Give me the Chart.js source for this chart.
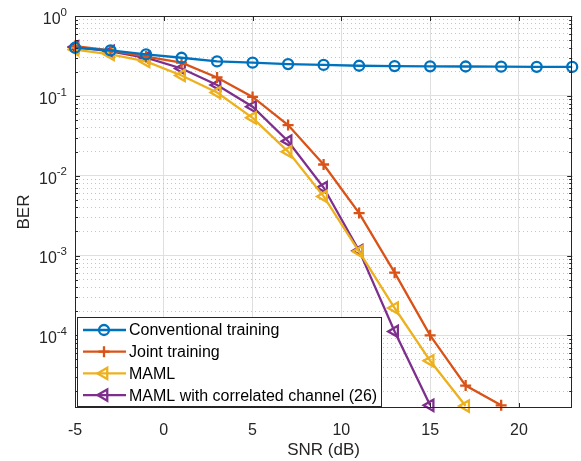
<!DOCTYPE html>
<html>
<head>
<meta charset="utf-8">
<script src="https://cdn.jsdelivr.net/npm/chart.js@4.4.1/dist/chart.umd.min.js"></script>
<style>
  html, body { margin: 0; padding: 0; background: #fff; }
  #wrap { width: 581px; height: 461px; }
</style>
</head>
<body>
<div id="wrap"><canvas id="berChart"></canvas></div>
<script>
// values
const snr = [-5, -3, -1, 1, 3, 5, 7, 9, 11, 13, 15, 17, 19, 21, 23];
const conventional = [0.40, 0.37, 0.33, 0.30, 0.27, 0.26, 0.25, 0.244, 0.238, 0.236, 0.234, 0.233, 0.232, 0.231, 0.230];
const joint = [0.42, 0.37, 0.31, 0.26, 0.17, 0.097, 0.043, 0.0138, 0.0034, 6.1e-4, 1.0e-4, 2.35e-5, 1.33e-5];
const maml = [0.38, 0.33, 0.27, 0.18, 0.11, 0.053, 0.020, 0.0055, 1.12e-3, 2.2e-4, 4.8e-5, 1.3e-5];
const mamlCorr = [0.41, 0.36, 0.30, 0.22, 0.137, 0.073, 0.027, 0.0071, 1.15e-3, 1.12e-4, 1.33e-5];
const seriesNames = ['Conventional training', 'Joint training', 'MAML', 'MAML with correlated channel (26)'];
const xTicks = [-5, 0, 5, 10, 15, 20];
const yTicks = [1e-4, 1e-3, 1e-2, 1e-1, 1];
const yMin = 1.23e-5, yMax = 1;

const FONT = '"Liberation Sans", Arial, Helvetica, sans-serif';
const TXT = '#262626';

// minor log grid: 2..9 x 10^k
const yMinor = [];
for (let k = -5; k <= -1; k++) {
  for (let m = 2; m <= 9; m++) {
    const v = m * Math.pow(10, k);
    if (v >= yMin && v <= yMax) yMinor.push(v);
  }
}

function pts(vals) {
  return vals.map((v, i) => ({ x: snr[i], y: v }));
}

function makeSet(label, vals, color, style, radius, rotation) {
  return {
    label,
    data: pts(vals),
    borderColor: color,
    backgroundColor: 'rgba(0,0,0,0)',
    borderWidth: 2.3,
    pointStyle: style,
    pointRadius: radius,
    pointRotation: rotation,
    pointBorderWidth: 2.3,
    pointBorderColor: color,
    pointBackgroundColor: 'rgba(0,0,0,0)',
    tension: 0,
    clip: 8
  };
}

// box, inner ticks, superscript y labels, legend inside the plot
const berDecor = {
  id: 'berDecor',
  afterDraw(chart) {
    const { ctx, chartArea: a, scales } = chart;
    const x = scales.x, y = scales.y;
    ctx.save();

    // axes box
    ctx.strokeStyle = TXT;
    ctx.lineWidth = 1;
    ctx.setLineDash([]);
    ctx.strokeRect(Math.round(a.left) + 0.5, Math.round(a.top) + 0.5,
      Math.round(a.right - a.left) - 1, Math.round(a.bottom - a.top) - 1);

    // ticks pointing inward
    ctx.beginPath();
    xTicks.forEach(v => {
      const px = Math.round(x.getPixelForValue(v)) + 0.5;
      ctx.moveTo(px, a.bottom); ctx.lineTo(px, a.bottom - 5);
      ctx.moveTo(px, a.top); ctx.lineTo(px, a.top + 5);
    });
    yTicks.forEach(v => {
      const py = Math.round(y.getPixelForValue(v)) + 0.5;
      ctx.moveTo(a.left, py); ctx.lineTo(a.left + 5, py);
      ctx.moveTo(a.right, py); ctx.lineTo(a.right - 5, py);
    });
    yMinor.forEach(v => {
      const py = Math.round(y.getPixelForValue(v)) + 0.5;
      ctx.moveTo(a.left, py); ctx.lineTo(a.left + 3, py);
      ctx.moveTo(a.right, py); ctx.lineTo(a.right - 3, py);
    });
    ctx.stroke();

    // y tick labels 10^k
    ctx.fillStyle = TXT;
    ctx.textBaseline = 'middle';
    ctx.textAlign = 'right';
    yTicks.forEach(v => {
      const py = y.getPixelForValue(v);
      const ex = String(Math.round(Math.log10(v)));
      ctx.font = '11.5px ' + FONT;
      const right = a.left - 8;
      const w = ctx.measureText(ex).width;
      ctx.fillText(ex, right, py - 3.5);
      ctx.font = '16px ' + FONT;
      ctx.fillText('10', right - w, py + 3.5);
    });

    // legend
    const lx = 77, ly = 317, lw = 305, lh = 90, row = 21.7;
    ctx.fillStyle = '#ffffff';
    ctx.fillRect(lx, ly, lw, lh);
    ctx.strokeStyle = TXT;
    ctx.lineWidth = 1;
    ctx.strokeRect(lx + 0.5, ly + 0.5, lw - 1, lh - 1);
    ctx.textAlign = 'left';
    ctx.font = '16px ' + FONT;
    chart.data.datasets.forEach((ds, i) => {
      const cy = ly + 13 + i * row;
      ctx.strokeStyle = ds.borderColor;
      ctx.lineWidth = 2.3;
      ctx.beginPath();
      ctx.moveTo(83, cy); ctx.lineTo(126, cy);
      ctx.stroke();
      ctx.fillStyle = 'rgba(0,0,0,0)';
      Chart.helpers.drawPoint(ctx, {
        pointStyle: ds.pointStyle, radius: ds.pointRadius,
        rotation: ds.pointRotation, borderWidth: 2.3
      }, 104, cy);
      ctx.fillStyle = '#000000';
      ctx.fillText(ds.label, 129, cy + 1);
    });

    ctx.restore();
  }
};

new Chart(document.getElementById('berChart'), {
  type: 'line',
  data: {
    datasets: [
      makeSet(seriesNames[0], conventional, '#0072BD', 'circle', 5, 0),
      makeSet(seriesNames[1], joint, '#D95319', 'cross', 5.5, 0),
      makeSet(seriesNames[2], maml, '#EDB120', 'triangle', 6.5, -90),
      makeSet(seriesNames[3], mamlCorr, '#7E2F8E', 'triangle', 6.5, -90)
    ]
  },
  options: {
    responsive: true,
    maintainAspectRatio: false,
    animation: false,
    devicePixelRatio: 1,
    layout: { padding: { left: 0, right: 5, top: 16, bottom: 0 } },
    plugins: { legend: { display: false }, tooltip: { enabled: false } },
    scales: {
      x: {
        type: 'linear',
        min: -5,
        max: 23,
        afterBuildTicks: s => { s.ticks = xTicks.map(v => ({ value: v })); },
        afterFit: s => { s.height = 53; },
        grid: { color: '#dfdfdf', drawTicks: false },
        border: { display: false },
        ticks: { color: TXT, padding: 13, font: { size: 16, family: FONT } },
        title: { display: true, text: 'SNR (dB)', color: TXT, font: { size: 17, family: FONT }, padding: { top: 0, bottom: 0 } }
      },
      y: {
        type: 'logarithmic',
        min: yMin,
        max: yMax,
        bounds: 'data',
        afterBuildTicks: s => { s.ticks = yTicks.map(v => ({ value: v })); },
        afterFit: s => { s.width = 75; },
        grid: { color: '#dfdfdf', drawTicks: false },
        border: { display: false },
        ticks: { callback: () => '', font: { size: 16, family: FONT } },
        title: { display: true, text: 'BER', color: TXT, font: { size: 17, family: FONT }, padding: { top: 14, bottom: 0 } }
      },
      yMinor: {
        type: 'logarithmic',
        position: 'left',
        min: yMin,
        max: yMax,
        bounds: 'data',
        afterBuildTicks: s => { s.ticks = yMinor.map(v => ({ value: v })); },
        afterFit: s => { s.width = 0; },
        grid: { color: '#c4c4c4', drawTicks: false },
        border: { display: false, dash: [1, 3] },
        ticks: { display: false }
      }
    }
  },
  plugins: [berDecor]
});
</script>
</body>
</html>
